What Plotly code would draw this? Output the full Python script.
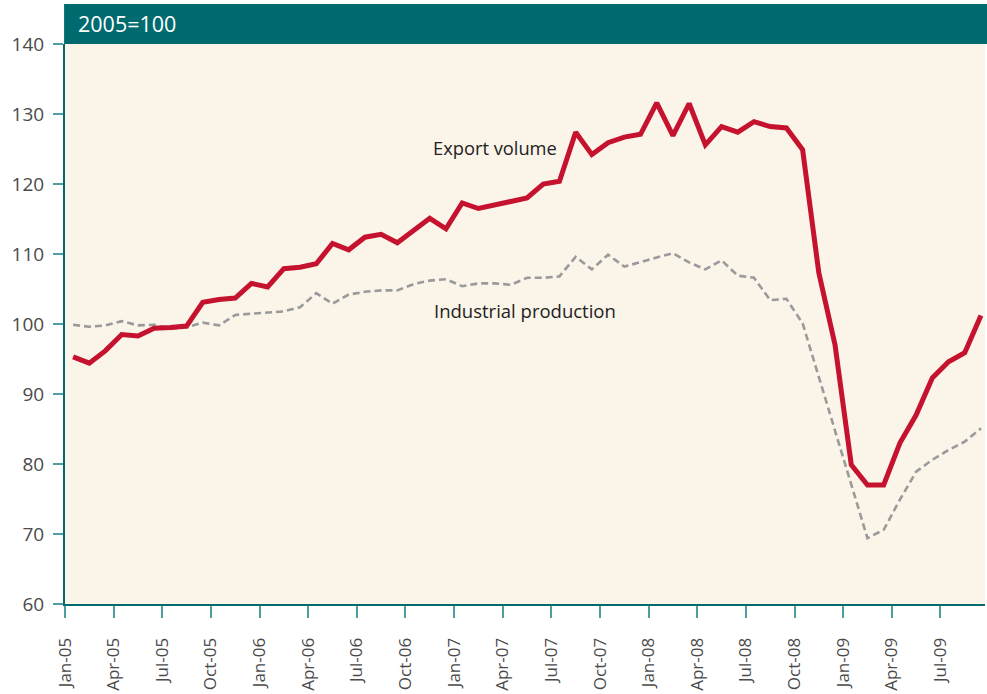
import plotly.graph_objects as go

months = ["Jan", "Feb", "Mar", "Apr", "May", "Jun", "Jul", "Aug", "Sep", "Oct", "Nov", "Dec"]
dates = [f"{months[i % 12]}-{5 + i // 12:02d}" for i in range(57)]  # Jan-05 .. Sep-09

export_volume = [
    95.3, 94.4, 96.2, 98.5, 98.3, 99.4, 99.5, 99.7, 103.1, 103.5, 103.7, 105.8,
    105.3, 107.9, 108.1, 108.6, 111.5, 110.6, 112.4, 112.8, 111.6, 113.3, 115.1, 113.6,
    117.3, 116.5, 117.0, 117.4, 118.0, 120.0, 120.4, 127.4, 124.2, 125.9, 126.7, 127.1,
    131.6, 126.9, 131.5, 125.6, 128.2, 127.4, 128.9, 128.2, 128.0, 124.9, 107.3, 97.0,
    79.9, 77.0, 77.0, 83.0, 87.0, 92.3, 94.6, 95.9, 101.2,
]
industrial_production = [
    99.9, 99.6, 99.8, 100.4, 99.8, 99.9, 99.3, 99.5, 100.2, 99.8, 101.3, 101.5,
    101.7, 101.8, 102.4, 104.4, 102.9, 104.2, 104.6, 104.8, 104.8, 105.7, 106.2, 106.4,
    105.4, 105.8, 105.8, 105.6, 106.6, 106.6, 106.8, 109.6, 107.8, 109.9, 108.2, 108.9,
    109.5, 110.1, 108.8, 107.8, 109.1, 106.9, 106.6, 103.4, 103.6, 100.1, 92.5, 84.7,
    77.1, 69.4, 70.6, 74.9, 78.9, 80.6, 82.0, 83.2, 85.1,
]
tick_labels = dates[::3]
y_ticks = [60, 70, 80, 90, 100, 110, 120, 130, 140]

x = list(range(len(dates)))
teal = "#006b6f"
font = "Open Sans, Noto Sans, sans-serif"

fig = go.Figure()
fig.add_trace(go.Scatter(
    x=x, y=industrial_production, mode="lines", name="Industrial production",
    line=dict(color="#9a9a9c", width=2.6, dash="7px,4px"), hoverinfo="skip",
))
fig.add_trace(go.Scatter(
    x=x, y=export_volume, mode="lines", name="Export volume",
    line=dict(color="#c4122f", width=5), hoverinfo="skip",
))

fig.update_layout(
    width=987, height=694,
    margin=dict(l=65, r=2, t=44, b=90),
    paper_bgcolor="white", plot_bgcolor="#fbf4e8",
    showlegend=False,
    font=dict(family=font, color="#4a4a4a", size=17),
    xaxis=dict(
        range=[-0.5, 56.25], tickmode="array",
        tickvals=[i - 0.5 for i in range(0, 57, 3)], ticktext=tick_labels,
        tickangle=-90, ticks="outside", ticklen=12, tickwidth=1.5, tickcolor="#4f9ea2",
        showline=True, linecolor=teal, linewidth=2, showgrid=False, zeroline=False,
        tickfont=dict(size=17, color="#4a4a4a"), ticklabelstandoff=13,
    ),
    yaxis=dict(
        range=[60, 140], tickmode="array", tickvals=y_ticks,
        ticks="outside", ticklen=10, tickwidth=1.5, tickcolor="#4f9ea2",
        showline=True, linecolor=teal, linewidth=2, showgrid=False, zeroline=False,
        tickfont=dict(size=19, color="#4a4a4a"), ticklabelstandoff=5,
    ),
    shapes=[dict(
        type="rect", xref="paper", yref="paper",
        x0=-0.001, x1=1.01, y0=1.0, y1=1.0715,
        fillcolor=teal, line=dict(width=0), layer="above",
    )],
    annotations=[
        dict(text="2005=100", xref="paper", yref="paper", x=0.012, y=1.036,
             xanchor="left", yanchor="middle", showarrow=False,
             font=dict(family=font, size=21.5, color="white")),
        dict(text="Export volume", xref="x", yref="y", x=26.0, y=125.2,
             xanchor="center", yanchor="middle", showarrow=False,
             font=dict(family=font, size=18.3, color="#222222")),
        dict(text="Industrial production", xref="x", yref="y", x=27.9, y=101.9,
             xanchor="center", yanchor="middle", showarrow=False,
             font=dict(family=font, size=18.5, color="#222222")),
    ],
)

fig.write_html(
    "out.html",
    config={"displayModeBar": False},
    post_script="document.body.style.margin='0';document.body.style.overflow='hidden';",
)
